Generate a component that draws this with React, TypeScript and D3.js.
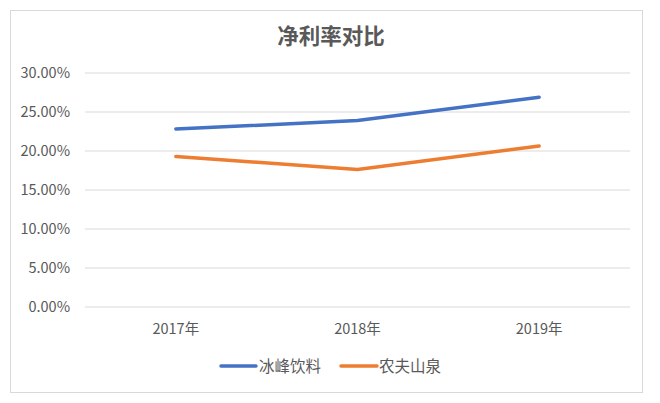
import React from "react";
import * as d3 from "d3";

const categories = ["2017年", "2018年", "2019年"];
const seriesNames = ["冰峰饮料", "农夫山泉"];
const bingfeng = [0.2282, 0.2390, 0.2690];
const nongfu = [0.1930, 0.1763, 0.2063];
const yTicks = [0, 0.05, 0.1, 0.15, 0.2, 0.25, 0.3];
const colors = ["#4472C4", "#ED7D31"];

const W = 660, H = 403;
const font = "'Noto Sans CJK SC', 'Microsoft YaHei', sans-serif";

export default function App() {
  const x = d3.scaleBand<string>().domain(categories).range([85, 630]);
  const y = d3.scaleLinear().domain([0, 0.3]).range([307, 73]);
  const line = d3
    .line<number>()
    .x((_, i) => (x(categories[i]) as number) + x.bandwidth() / 2)
    .y((d) => y(d));
  const fmt = d3.format(".2%");
  const series = [bingfeng, nongfu];
  const legend = [
    { x1: 221, x2: 256, tx: 259 },
    { x1: 341, x2: 377, tx: 379 },
  ];
  return (
    <svg width={W} height={H} style={{ position: "absolute", left: 0, top: 0 }} fontFamily={font}>
      <rect x={0} y={0} width={W} height={H} fill="#fff" />
      <rect x={10.5} y={10.5} width={632} height={382} fill="#fff" stroke="#D9D9D9" />
      <text x={331} y={44} textAnchor="middle" fontSize={21.5} fontWeight="bold" fill="#595959">
        净利率对比
      </text>
      {yTicks.map((t) => (
        <g key={t}>
          <line x1={85} x2={630} y1={y(t)} y2={y(t)} stroke="#D9D9D9" strokeWidth={1} />
          <text x={70} y={y(t) + 5} textAnchor="end" fontSize={14.5} fill="#595959">
            {fmt(t)}
          </text>
        </g>
      ))}
      {categories.map((c) => (
        <text key={c} x={(x(c) as number) + x.bandwidth() / 2} y={334} textAnchor="middle" fontSize={14.5} fill="#595959">
          {c}
        </text>
      ))}
      {series.map((s, i) => (
        <path key={i} d={line(s) || ""} fill="none" stroke={colors[i]} strokeWidth={3.5} strokeLinecap="round" strokeLinejoin="round" />
      ))}
      {seriesNames.map((n, i) => (
        <g key={n}>
          <line x1={legend[i].x1} x2={legend[i].x2} y1={366} y2={366} stroke={colors[i]} strokeWidth={3.5} strokeLinecap="round" />
          <text x={legend[i].tx} y={371.5} fontSize={15.5} fill="#595959">
            {n}
          </text>
        </g>
      ))}
    </svg>
  );
}
